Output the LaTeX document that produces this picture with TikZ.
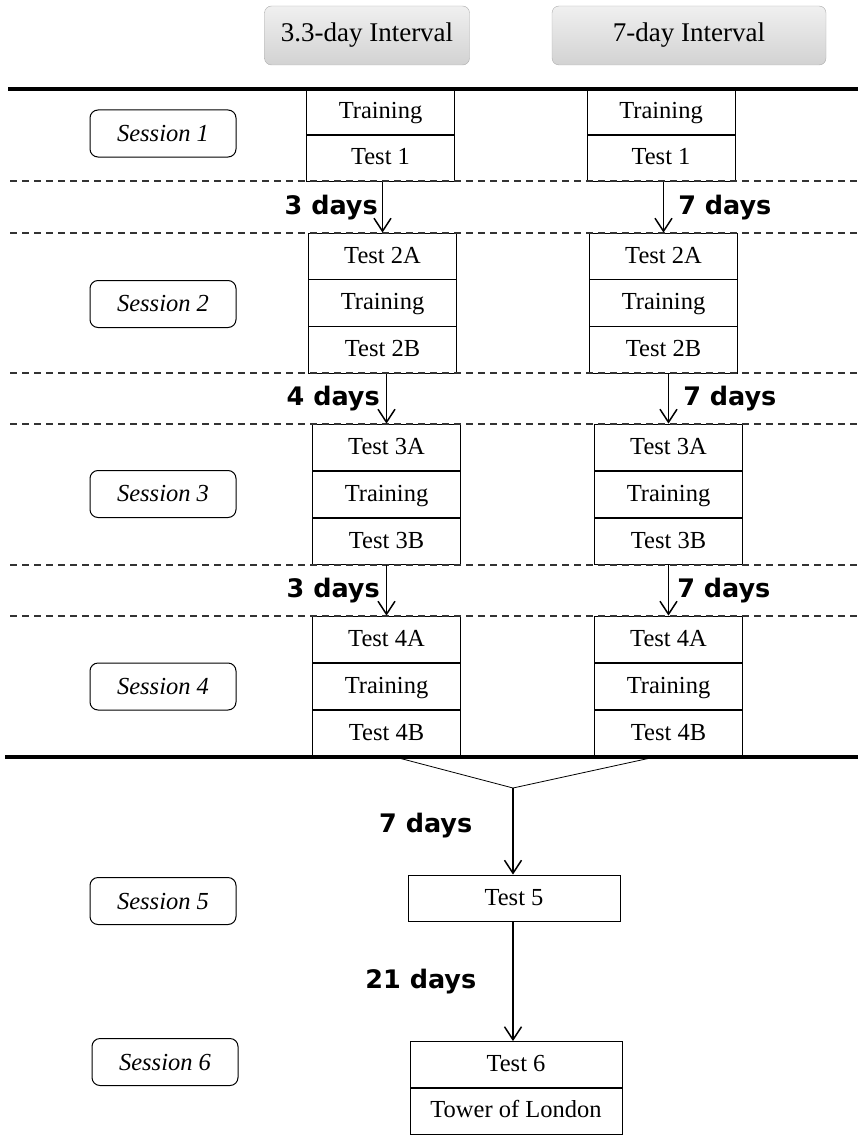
\documentclass[tikz,border=0pt]{standalone}
\usepackage{fontspec}
\setmainfont{Liberation Serif}
\newfontfamily\dayfont{DejaVu Sans}
\usepackage{tikz}
\usetikzlibrary{arrows.meta}

\tikzset{
  hdr/.style={draw=gray!65,rounded corners=7pt,top color=gray!12,bottom color=gray!35,
    minimum height=59pt,inner sep=0pt,font=\fontsize{27}{30}\selectfont},
  cell/.style={draw,line width=1pt,minimum width=148pt,minimum height=46.8pt,
    inner sep=0pt,text height=17.5pt,text depth=4.5pt,font=\fontsize{24.5}{28}\selectfont},
  sess/.style={draw,line width=1pt,rounded corners=8pt,minimum width=146pt,
    minimum height=47pt,inner sep=0pt,font=\fontsize{24.5}{28}\selectfont\itshape},
  arr/.style={line width=1.5pt,-{Straight Barb[length=13pt,width=17pt]}},
  lbl/.style={font=\fontsize{25.5}{28}\selectfont\dayfont\bfseries,inner sep=0pt}
}

\begin{document}
\begin{tikzpicture}[x=1pt,y=-1pt]
    \useasboundingbox (0,0) rectangle (862,1145);

    % Interval headers
    \node[hdr,minimum width=205pt] (h1) at (367,35.5) {3.3-day Interval};
    \node[hdr,minimum width=274pt] (h2) at (689,35.5) {7-day Interval};

    % Session labels
    \node[sess] (s1) at (163,133.5) {Session 1};
    \node[sess] (s2) at (163,304) {Session 2};
    \node[sess] (s3) at (163,494) {Session 3};
    \node[sess] (s4) at (163,686.5) {Session 4};
    \node[sess] (s5) at (163,901) {Session 5};
    \node[sess] (s6) at (165,1062) {Session 6};

    % Session 1
    \node[cell] (a1tr) at (380.5,112) {Training};
    \node[cell] (a1t)  at (380.5,158) {Test 1};
    \node[cell] (b1tr) at (661,112) {Training};
    \node[cell] (b1t)  at (661,158) {Test 1};

    % Session 2
    \node[cell] (a2a)  at (382.5,256.5) {Test 2A};
    \node[cell] (a2tr) at (382.5,303.3) {Training};
    \node[cell] (a2b)  at (382.5,350) {Test 2B};
    \node[cell] (b2a)  at (663.5,256.5) {Test 2A};
    \node[cell] (b2tr) at (663.5,303.3) {Training};
    \node[cell] (b2b)  at (663.5,350) {Test 2B};

    % Session 3
    \node[cell] (a3a)  at (386.5,447.5) {Test 3A};
    \node[cell] (a3tr) at (386.5,494.5) {Training};
    \node[cell] (a3b)  at (386.5,541.5) {Test 3B};
    \node[cell] (b3a)  at (668.5,447.5) {Test 3A};
    \node[cell] (b3tr) at (668.5,494.5) {Training};
    \node[cell] (b3b)  at (668.5,541.5) {Test 3B};

    % Session 4
    \node[cell] (a4a)  at (386.5,639.5) {Test 4A};
    \node[cell] (a4tr) at (386.5,686.5) {Training};
    \node[cell] (a4b)  at (386.5,733.5) {Test 4B};
    \node[cell] (b4a)  at (668.5,639.5) {Test 4A};
    \node[cell] (b4tr) at (668.5,686.5) {Training};
    \node[cell] (b4b)  at (668.5,733.5) {Test 4B};

    % Sessions 5 and 6
    \node[cell,minimum width=212pt] (t5)  at (514,898.5) {Test 5};
    \node[cell,minimum width=212pt] (t6)  at (516,1065) {Test 6};
    \node[cell,minimum width=212pt] (tol) at (516,1111) {Tower of London};

    % Separators
    \foreach \y in {181,233,373,424,565,616}
        \draw[line width=1.2pt,dash pattern=on 7pt off 5pt,black!80] (10,\y) -- (858,\y);
    \draw[line width=4pt] (8,89) -- (858,89);
    \draw[line width=4pt] (5,757) -- (858,757);

    % Intervals, 3.3-day column
    \draw[arr] (a1t.south -| a2a) -- (a2a)
        node[lbl,midway,left=4pt] {3 days};
    \draw[arr] (a2b.south -| a3a) -- (a3a)
        node[lbl,midway,left=6pt] {4 days};
    \draw[arr] (a3b) -- (a4a)
        node[lbl,midway,left=6pt] {3 days};

    % Intervals, 7-day column
    \draw[arr] (b1t.south -| b2a) -- (b2a)
        node[lbl,midway,right=14pt] {7 days};
    \draw[arr] (b2b.south -| b3a) -- (b3a)
        node[lbl,midway,right=14pt] {7 days};
    \draw[arr] (b3b) -- (b4a)
        node[lbl,midway,right=8pt] {7 days};

    % Merge
    \coordinate (ml) at (395,757);
    \coordinate (mr) at (655,757);
    \coordinate (mv) at (513,788);
    \draw[line width=0.8pt] (ml) -- (mv) -- (mr);
    \draw[arr] (mv) -- (mv |- t5.north)
        node[lbl,pos=0.43,left=40pt] {7 days};
    \draw[arr] (t5.south -| mv) -- (mv |- t6.north)
        node[lbl,midway,left=36pt] {21 days};
\end{tikzpicture}
\end{document}
